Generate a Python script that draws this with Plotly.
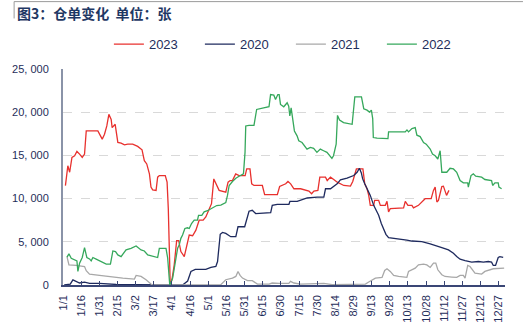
import plotly.graph_objects as go

# Day-of-year axis (non-leap year), tick every 15 days
tick_days = list(range(0, 361, 15))
tick_labels = ["1/1", "1/16", "1/31", "2/15", "3/2", "3/17", "4/1", "4/16", "5/1",
               "5/16", "5/31", "6/15", "6/30", "7/15", "7/30", "8/14", "8/29",
               "9/13", "9/28", "10/13", "10/28", "11/12", "11/27", "12/12", "12/27"]
y_ticks = [0, 5000, 10000, 15000, 20000, 25000]
y_tick_labels = ["0", "5, 000", "10, 000", "15, 000", "20, 000", "25, 000"]

# 2023 warrant receipts
days_2023 = [2, 4, 5.5, 7.4, 9.6, 11.5, 13.7, 15.9, 17.8, 19.2, 28.8, 32.4, 34.3, 36.2, 37.9,
             39.8, 40.6, 43.1, 45.3, 48, 50.8, 53.5, 57.6, 61.7, 65.3, 67.2, 69.2, 71.4, 72.7,
             74.1, 76.9, 78.2, 79.6, 84.5, 86, 87, 88.6, 90, 91.9, 93.9, 95.6, 97.4, 100.2,
             102.1, 104.3, 107.1, 109.8, 112.5, 115.8, 118, 120.8, 122.7, 124.6, 126.3, 129,
             134.5, 136.4, 138.1, 140, 142.7, 145.5, 150.5, 151.8, 154.5, 155.9, 157.8, 164.7,
             166.6, 177.1, 179, 184, 185.9, 188.1, 190.8, 196.3, 203.2, 205.4, 207.3, 210.6,
             212.2, 216.9, 218.3, 221, 223.7, 226.6, 232, 237.5, 239.4, 242.4, 247.8, 249.3,
             251.2, 252.6, 253.9, 256.7, 257.5, 260.8, 262.2, 266.3, 267.7, 269, 270.4, 281.4,
             282.8, 285, 288.3, 289.6, 293.7, 297.9, 299.2, 304.2, 306.1, 307.5, 308.9, 310.2,
             311.6, 313, 314.3, 316.9, 318.9]
vals_2023 = [11500, 13800, 13050, 14770, 14960, 15460, 15150, 14770, 15150, 17830, 17830, 16880,
             17450, 18410, 19750, 19170, 18220, 18600, 16500, 16420, 16230, 16300, 16300, 16040,
             15650, 14390, 14010, 12860, 11330, 11020, 10950, 12480, 12670, 12670, 11900, 8840,
             0, 600, 2330, 5130, 5130, 3870, 3290, 4440, 5780, 5700, 6350, 7500, 7500, 7880,
             8840, 9410, 12280, 11710, 10950, 10750, 11900, 12090, 12090, 12860, 12670, 12670,
             13430, 13430, 11710, 11520, 11520, 10450, 10450, 11400, 11710, 11980, 11710, 11140,
             11140, 10870, 10560, 10870, 10950, 12480, 12480, 12090, 12480, 12210, 11900, 11520,
             11440, 11980, 13430, 13430, 11710, 11140, 10370, 9220, 9220, 9800, 9800, 9220, 9220,
             9680, 8460, 8840, 8920, 9680, 9220, 9220, 8920, 9220, 9800, 9990, 9990, 10950, 11330,
             9610, 9800, 10750, 11400, 11440, 10370, 10950]

# 2020 warrant receipts
days_2020 = [1, 6, 8.2, 10.9, 13.7, 17.8, 22, 30, 43.9, 60, 98.8, 103, 105.7, 109.3, 118, 122.2,
             126.3, 127.7, 129.9, 131.8, 134.5, 138.6, 142.8, 144.6, 150.1, 153.7, 156.4, 159.2,
             171.6, 172.9, 177, 186.7, 187.5, 193.5, 196.3, 201.8, 210, 215.5, 216.9, 221, 226.5,
             229.2, 234.7, 237.5, 240.2, 243, 244.9, 246.5, 247.6, 249.3, 251.2, 253.9, 256.7,
             258.6, 260.8, 263, 264.9, 266.8, 269, 273.1, 280, 284.1, 288.3, 296.5, 303.4, 308.9,
             313, 318.5, 322.6, 325.3, 328.1, 332.2, 337.7, 343.2, 347.3, 351.4, 354.1, 355.5,
             357.4, 359.6, 361, 363.7]
vals_2020 = [0, 100, 600, 450, 230, 340, 190, 190, 60, 30, 0, 460, 1570, 1800, 1800, 2030, 2140,
             2720, 5860, 6080, 5970, 5590, 5590, 6740, 6740, 8540, 8650, 8270, 8380, 9220, 9340,
             9340, 9680, 9680, 9800, 10070, 10180, 10180, 11140, 11140, 11710, 12170, 12360, 12480,
             12670, 13050, 13510, 12970, 12280, 11710, 11140, 10370, 9220, 8650, 8080, 7120, 6540,
             5860, 5470, 5400, 5320, 5200, 5090, 5010, 4750, 4550, 4320, 4060, 3670, 3290, 2990,
             2830, 2640, 2720, 2640, 2720, 2640, 2260, 2260, 3180, 3290, 3210]

# 2021 warrant receipts
days_2021 = [3.3, 4.9, 10.9, 17.8, 19.2, 21.9, 30.2, 38.4, 49.4, 59, 60.4, 64.5, 68.6, 72.7, 74.1,
             130.4, 134.5, 140, 142.8, 144.6, 146.3, 148.3, 152.4, 156.4, 160.6, 170.2, 172.9,
             178.4, 186.6, 188, 190.8, 196.3, 207.3, 215.5, 222.4, 249.9, 252.6, 258.1, 263.6,
             265.8, 267.7, 270.4, 273.2, 277.3, 284.1, 285.5, 291, 293.7, 297.9, 300.6, 303.4,
             306.1, 308, 309.7, 313, 315.7, 321.2, 325.3, 328.1, 330.8, 332.2, 333.6, 334.4, 336.3,
             340.4, 345.9, 348.6, 355.5, 359.6, 364.5]
vals_2021 = [3290, 2330, 2260, 2140, 1650, 1260, 1110, 960, 800, 690, 1110, 990, 610, 110, 0, 40,
             610, 800, 990, 1570, 1110, 800, 500, 500, 110, 110, 230, 190, 190, 420, 230, 110, 110,
             190, 40, 110, 340, 800, 880, 1680, 1880, 1570, 1110, 990, 880, 1570, 1950, 2330, 2410,
             2330, 2030, 2530, 2530, 1760, 1190, 990, 920, 880, 1110, 1110, 800, 1570, 2260, 2140,
             1380, 1260, 1570, 1880, 1950, 1950]

# 2022 warrant receipts
days_2022 = [3.3, 4.9, 6.8, 9.6, 11.5, 12.3, 13.7, 15.9, 17.8, 19.7, 21.9, 23.3, 24.7, 27.4, 31.6,
             35.7, 39.2, 41.2, 43.4, 45.3, 48, 52.1, 56.2, 60.4, 64.5, 67.2, 70, 74.1, 78.2, 79.6,
             85.1, 86.5, 88.2, 90.6, 91.9, 93.3, 94.7, 96, 97.4, 98.8, 100.7, 102.9, 104.3, 106.2,
             108.4, 111.1, 112, 114.7, 116.6, 119.4, 122.1, 124.8, 127, 130.4, 134.5, 135.9, 137.3,
             140, 142.8, 145.5, 149.1, 150.4, 151, 153.7, 157.8, 160, 163.3, 170.2, 171.5, 174.2,
             175.6, 177.5, 178.6, 179.7, 182.4, 185.2, 186.5, 187.4, 188.5, 190.1, 191.2, 193.4,
             194.8, 197.5, 200.3, 201.6, 204.4, 207.1, 209.8, 212.6, 215.3, 218.1, 222.2, 223.5,
             225.7, 226.8, 228.5, 231.8, 238.9, 241.1, 246.6, 248.5, 251.2, 253.2, 254.8, 255.9,
             256.4, 259.5, 268.5, 269, 282.8, 284.2, 285.5, 288.3, 291, 292.4, 295.1, 297.9, 300.1,
             302, 303.4, 305.3, 307.5, 309.7, 311.6, 313, 317.1, 319.8, 322.6, 325.3, 328.1, 330.8,
             334.4, 334.9, 337.1, 339, 341, 345.9, 348.6, 354.1, 355, 356.9, 359.6, 360.2, 362.4]
vals_2022 = [3220, 3610, 3100, 2910, 2790, 1570, 2530, 3180, 4320, 3180, 3020, 2790, 3180, 2990,
             2720, 2410, 2410, 3940, 3870, 3480, 3290, 4060, 4250, 4520, 4060, 3940, 3480, 3290,
             3180, 4250, 4250, 3100, 0, 800, 1950, 3100, 4250, 4630, 5400, 5780, 6540, 6620, 6540,
             7120, 7500, 7500, 8070, 8070, 8460, 8600, 8840, 9000, 9200, 9250, 9530, 10370, 11520,
             11980, 12360, 12590, 12860, 15350, 18410, 18480, 18480, 20320, 20400, 20630, 22040,
             21970, 21470, 22040, 22040, 20900, 20630, 21090, 20700, 19560, 20510, 18790, 17830,
             17260, 16690, 16490, 16040, 15730, 15920, 15810, 15350, 15730, 15540, 15350, 14660,
             14960, 16300, 19630, 19100, 18790, 18600, 21780, 21780, 20400, 20240, 20010, 20240,
             19250, 17070, 16990, 16950, 17720, 17720, 17950, 17720, 18100, 18220, 17340, 17180,
             16490, 16300, 16040, 15730, 15160, 14960, 14580, 15540, 13050, 13050, 13510, 13430,
             13050, 12090, 11820, 11820, 11330, 12670, 12860, 12590, 12480, 12210, 12090, 11520,
             11820, 11820, 11330, 11140]

series = [
    ("2023", days_2023, vals_2023, "#e8312e"),
    ("2020", days_2020, vals_2020, "#1e2a5e"),
    ("2021", days_2021, vals_2021, "#a8a8a8"),
    ("2022", days_2022, vals_2022, "#36a85c"),
]

TEXT = "#1f2d5a"
W, H = 523, 335
L, R, T, B = 62, 18, 69, 48
pw, ph = W - L - R, H - T - B


def px_x(x):
    return (x - L) / pw


def px_y(y):
    return (H - B - y) / ph


fig = go.Figure()
for name, d, v, c in series:
    fig.add_trace(go.Scatter(x=d, y=v, mode="lines", name=name,
                             line=dict(color=c, width=1.3)))

fig.update_layout(
    width=W, height=H,
    margin=dict(l=L, r=R, t=T, b=B),
    paper_bgcolor="white", plot_bgcolor="white",
    font=dict(family="Liberation Sans, Arial, sans-serif", color=TEXT, size=11),
    showlegend=True,
    legend=dict(orientation="h", x=px_x(108), xanchor="left",
                y=px_y(44), yanchor="middle",
                font=dict(size=13, color=TEXT),
                entrywidth=46, entrywidthmode="pixels",
                bgcolor="rgba(0,0,0,0)"),
    xaxis=dict(range=[0, 365.2], tickmode="array", tickvals=tick_days, ticktext=tick_labels,
               tickangle=-90, ticks="inside", ticklen=4, tickcolor="#3a4675", tickwidth=1,
               showline=True, linecolor="#3a4675", linewidth=1.5, ticklabelstandoff=4,
               showgrid=False, zeroline=False, tickfont=dict(size=11, color=TEXT)),
    yaxis=dict(range=[0, 25000], tickmode="array", tickvals=y_ticks, ticktext=y_tick_labels,
               showline=True, linecolor="#8a93a8", linewidth=2,
               showgrid=True, gridcolor="#d9d9d9", griddash="dash", gridwidth=1,
               zeroline=False, ticks="", ticklabelstandoff=10,
               tickfont=dict(size=11, color=TEXT)),
)

# Title with its framing lines
fig.add_annotation(text="<b>图3：仓单变化  单位：张</b>", xref="paper", yref="paper",
                   x=px_x(14), y=px_y(12), xanchor="left", yanchor="middle", showarrow=False,
                   font=dict(family="Noto Sans CJK SC", size=14, color="#1f3864"))
fig.add_shape(type="line", xref="paper", yref="paper", x0=px_x(13), x1=px_x(523),
              y0=px_y(1), y1=px_y(1), line=dict(color="#9a9a9a", width=1))
fig.add_shape(type="line", xref="paper", yref="paper", x0=px_x(13), x1=px_x(13),
              y0=px_y(1), y1=px_y(18), line=dict(color="#9a9a9a", width=1))

fig.write_html("out.html")
